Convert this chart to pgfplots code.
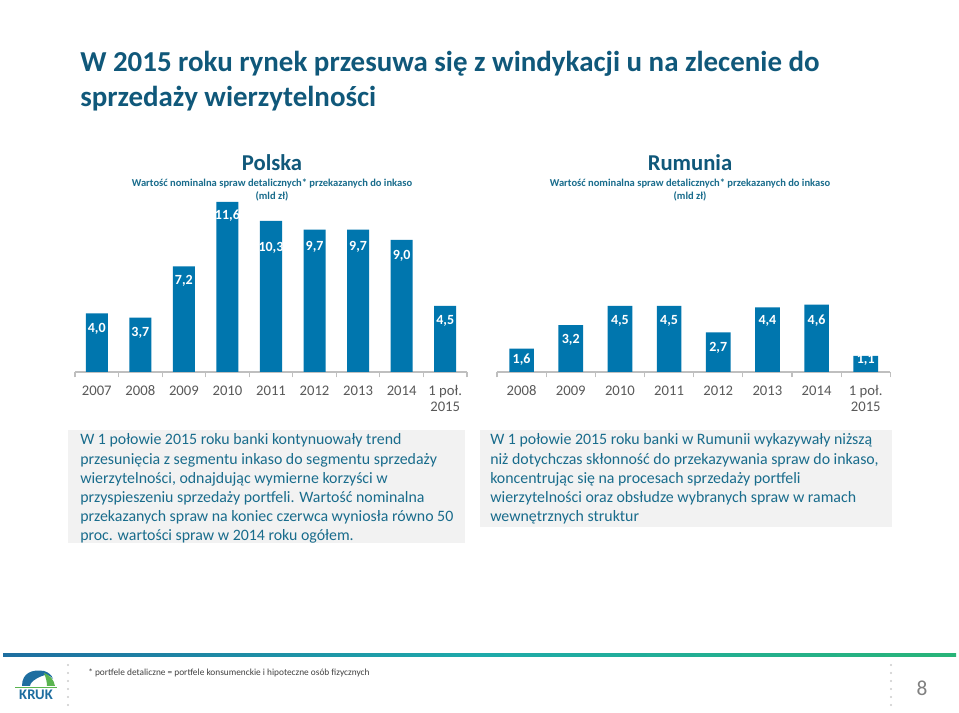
\documentclass[border=0pt]{standalone}
\usepackage{pgfplots}
\pgfplotsset{compat=1.18}
\usepackage{pgfplotstable}
\usepackage{fontspec}
\setmainfont{Carlito}
\definecolor{barblue}{RGB}{0,118,174}
\definecolor{titleblue}{RGB}{16,88,122}
\definecolor{textteal}{RGB}{25,108,140}
\definecolor{boxgray}{RGB}{242,242,242}
\definecolor{tickgray}{RGB}{89,89,89}
\definecolor{axisgray}{RGB}{191,191,191}
\definecolor{footblue}{RGB}{30,110,160}
\definecolor{footteal}{RGB}{30,170,170}
\definecolor{footgreen}{RGB}{40,180,120}
\definecolor{krukgreen}{RGB}{90,180,80}

\pgfplotstableread{
x y off
0 4.0 12
1 3.7 11
2 7.2 11
3 11.6 10.5
4 10.3 20
5 9.7 12.5
6 9.7 12.5
7 9.0 12
8 4.5 11
}\polska

\pgfplotstableread{
x y off
0 1.6 8.3
1 3.2 11
2 4.5 11
3 4.5 11
4 2.7 11.7
5 4.4 10.3
6 4.6 11.8
7 1.1 2.8
}\rumunia

\pgfplotsset{
  krukbars/.style={
    scale only axis, height=132pt, ymin=0, ymax=12,
    axis x line=bottom, axis y line=none,
    x axis line style={-, draw=axisgray, line width=0.8pt},
    ytick=\empty,
    major tick length=0pt, minor tick length=4pt, tick align=outside,
    minor tick style={draw=axisgray, line width=0.8pt},
    xticklabel style={align=center, font=\fontsize{11}{12.6}\selectfont, text=tickgray, anchor=north, yshift=-5pt},
    ybar, clip=false,
    /pgf/number format/assume math mode=true,
    nodes near coords={\pgfmathprintnumber[use comma,fixed,fixed zerofill,precision=1,assume math mode=true]{\pgfplotspointmeta}},
    visualization depends on={\thisrow{off}\as\myoff},
    every node near coord/.append style={anchor=center, yshift=-\myoff pt, text=white, font=\fontsize{10.5}{12}\selectfont\bfseries, inner sep=0pt},
  }
}

\begin{document}
\begin{tikzpicture}[x=0.75pt,y=0.75pt]
\path[fill=white] (0,0) rectangle (959,713);

% main title
\node[anchor=base west, inner sep=0, font=\fontsize{21.7}{25}\selectfont\bfseries, text=titleblue] at (80,641) {W 2015 roku rynek przesuwa się z windykacji u na zlecenie do};
\node[anchor=base west, inner sep=0, font=\fontsize{21.7}{25}\selectfont\bfseries, text=titleblue] at (80,606) {sprzedaży wierzytelności};

% chart titles
\node[anchor=base, inner sep=0, font=\fontsize{17}{20}\selectfont\bfseries, text=titleblue] at (272,542) {Polska};
\node[anchor=base, inner sep=0, font=\fontsize{7.9}{9}\selectfont\bfseries, text=textteal] at (272,526) {Wartość nominalna spraw detalicznych* przekazanych do inkaso};
\node[anchor=base, inner sep=0, font=\fontsize{7.9}{9}\selectfont\bfseries, text=textteal] at (272,513) {(mld zł)};

\node[anchor=base, inner sep=0, font=\fontsize{17}{20}\selectfont\bfseries, text=titleblue] at (690,542) {Rumunia};
\node[anchor=base, inner sep=0, font=\fontsize{7.9}{9}\selectfont\bfseries, text=textteal] at (690,526) {Wartość nominalna spraw detalicznych* przekazanych do inkaso};
\node[anchor=base, inner sep=0, font=\fontsize{7.9}{9}\selectfont\bfseries, text=textteal] at (690,513) {(mld zł)};

% Polska chart
\begin{axis}[krukbars, at={(56.25pt,255.75pt)}, anchor=south west, width=294pt,
  xmin=-0.5, xmax=8.5, bar width=16.5pt,
  xtick={0,...,8}, xticklabels={\strut 2007,\strut 2008,\strut 2009,\strut 2010,\strut 2011,\strut 2012,\strut 2013,\strut 2014,{\strut 1 poł.\\2015}},
  minor xtick={-0.5,0.5,...,8.5}]
\addplot[fill=barblue, draw=none] table[x=x,y=y] {\polska};
\end{axis}

% Rumunia chart
\begin{axis}[krukbars, at={(372.75pt,255.75pt)}, anchor=south west, width=295pt,
  xmin=-0.5, xmax=7.5, bar width=18.5pt,
  xtick={0,...,7}, xticklabels={\strut 2008,\strut 2009,\strut 2010,\strut 2011,\strut 2012,\strut 2013,\strut 2014,{\strut 1 poł.\\2015}},
  minor xtick={-0.5,0.5,...,7.5}]
\addplot[fill=barblue, draw=none] table[x=x,y=y] {\rumunia};
\end{axis}

% text boxes
\fill[boxgray] (68,170) rectangle (465,283);
\begin{scope}[every node/.style={anchor=base west, inner sep=0, font=\fontsize{11.9}{14}\selectfont, text=textteal}]
\node at (80,268) {W 1 połowie 2015 roku banki kontynuowały trend};
\node at (80,248.8) {przesunięcia z segmentu inkaso do segmentu sprzedaży};
\node at (80,229.6) {wierzytelności, odnajdując wymierne korzyści w};
\node at (80,210.4) {przyspieszeniu sprzedaży portfeli. Wartość nominalna};
\node at (80,191.2) {przekazanych spraw na koniec czerwca wyniosła równo 50};
\node at (80,172) {proc. wartości spraw w 2014 roku ogółem.};
\end{scope}

\fill[boxgray] (480,186) rectangle (892,283);
\begin{scope}[every node/.style={anchor=base west, inner sep=0, font=\fontsize{11.9}{14}\selectfont, text=textteal}]
\node at (490,268) {W 1 połowie 2015 roku banki w Rumunii wykazywały niższą};
\node at (490,248.8) {niż dotychczas skłonność do przekazywania spraw do inkaso,};
\node at (490,229.6) {koncentrując się na procesach sprzedaży portfeli};
\node at (490,210.4) {wierzytelności oraz obsłudze wybranych spraw w ramach};
\node at (490,191.2) {wewnętrznych struktur};
\end{scope}

% footer
\shade[left color=footblue, right color=footgreen, middle color=footteal] (3,56) rectangle (956,59);
\foreach \yy in {8,16,...,48} {
  \fill[gray!40] (68,\yy) circle (1.2);
  \fill[gray!40] (891,\yy) circle (1.2);
}
\node[anchor=base west, inner sep=0, font=\fontsize{7}{8}\selectfont, text=black!75] at (88,37) {* portfele detaliczne = portfele konsumenckie i hipoteczne osób fizycznych};
\node[anchor=center, inner sep=0, font=\fontsize{16}{18}\selectfont, text=gray] at (922,25) {8};

% KRUK logo
\fill[footblue] (22,27) .. controls (22,40) and (32,44) .. (44,42) .. controls (48,41) and (52,38) .. (53,34)
  .. controls (50,38) and (46,39) .. (42,37) .. controls (34,34) and (30,30) .. (30,27) -- cycle;
\fill[krukgreen] (44,40) .. controls (50,38) and (54,33) .. (55,27) -- (47,27) .. controls (47,31) and (46,35) .. (44,40) -- cycle;
\draw[krukgreen, line width=0.8pt] (15,25.5) -- (57,25.5);
\node[anchor=base, inner sep=0, font=\fontsize{11}{12}\selectfont\bfseries, text=footblue] at (36,13) {KRUK};

\end{tikzpicture}
\end{document}
